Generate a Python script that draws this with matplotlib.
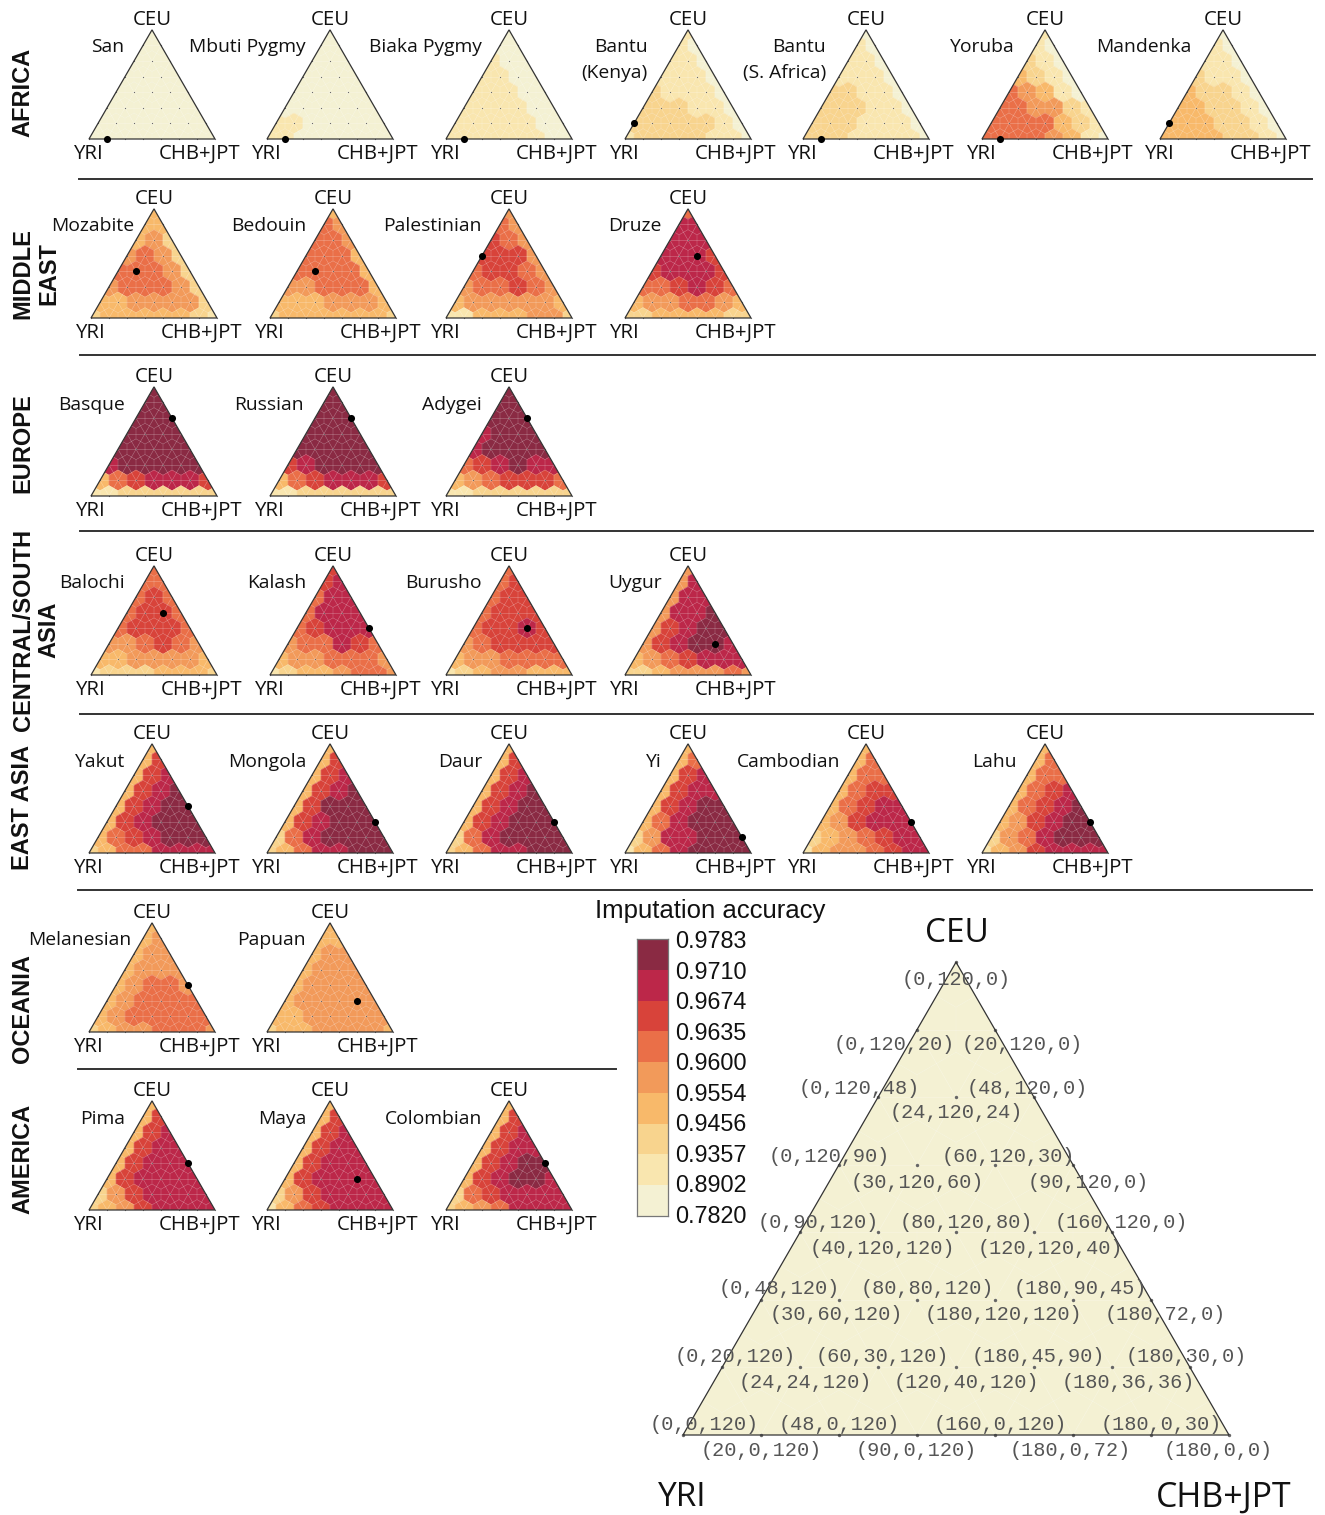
import numpy as np
import matplotlib
matplotlib.use('Agg')
import matplotlib.pyplot as plt
from matplotlib.colors import ListedColormap
from matplotlib.patches import Polygon, RegularPolygon

W, H = 1325, 1515

# levels per lattice row, top (row 7) to bottom (row 0), index into level_colors
san = "0 00 000 0000 00000 000000 0000000 00000000".split()
mbuti = "0 00 000 0000 00000 000000 1100000 11000000".split()
biaka = "0 00 100 1100 11100 111100 1111100 11111100".split()
bantu_kenya = "1 10 110 1110 21110 222110 2222210 12222110".split()
bantu_safrica = "0 10 110 1110 22110 222110 2221110 22211110".split()
yoruba = "1 10 210 3210 54310 554421 5555321 55554310".split()
mandenka = "0 10 110 2110 32210 332210 3332210 33332210".split()
mozabite = "3 33 342 4542 55542 455542 3344442 23333321".split()
bedouin = "3 54 554 5553 55553 445553 3334443 23333332".split()
palestinian = "4 54 654 6664 56654 455654 3444443 11333442".split()
druze = "5 77 777 7776 67776 556765 3445543 22333322".split()
basque = "8 88 888 8888 88888 788888 3567776 11222222".split()
russian = "8 88 888 8888 88888 678888 3567776 11222222".split()
adygei = "8 88 888 7888 78888 567877 3456665 11222222".split()
balochi = "5 55 565 5665 56665 445654 3344443 12223332".split()
kalash = "6 67 577 5777 56777 455765 3445554 12334554".split()
burusho = "5 56 566 5666 56676 456666 3445555 12344333".split()
uygur = "4 47 477 4778 46788 467887 3456777 22344454".split()
yakut = "3 36 367 3678 36788 367888 3567888 23557777".split()
mongola = "3 36 367 3678 36888 367888 2578888 23577888".split()
daur = "3 36 367 3678 36788 367888 2578888 23577888".split()
yi = "3 35 367 3677 36788 357888 2477888 13578888".split()
cambodian = "3 35 355 3566 35677 346777 2345677 13445677".split()
lahu = "3 35 355 3567 35678 346788 2457888 13467777".split()
melanesian = "3 34 344 3444 34554 345555 3455555 23445554".split()
papuan = "3 33 344 3444 34444 344444 3344444 23344443".split()
pima = "3 36 367 3677 36777 367777 2467777 23467777".split()
maya = "3 36 367 3677 36777 367777 2467777 13567777".split()
colombian = "3 36 367 3677 36788 367887 2567777 23457777".split()

names = ["San", "Mbuti Pygmy", "Biaka Pygmy", "Bantu\n(Kenya)", "Bantu\n(S. Africa)", "Yoruba", "Mandenka",
         "Mozabite", "Bedouin", "Palestinian", "Druze",
         "Basque", "Russian", "Adygei",
         "Balochi", "Kalash", "Burusho", "Uygur",
         "Yakut", "Mongola", "Daur", "Yi", "Cambodian", "Lahu",
         "Melanesian", "Papuan",
         "Pima", "Maya", "Colombian"]
levels = [san, mbuti, biaka, bantu_kenya, bantu_safrica, yoruba, mandenka,
          mozabite, bedouin, palestinian, druze,
          basque, russian, adygei,
          balochi, kalash, burusho, uygur,
          yakut, mongola, daur, yi, cambodian, lahu,
          melanesian, papuan,
          pima, maya, colombian]
# lattice position of the black dot
dot_rows = [0, 0, 0, 1, 0, 0, 1,
            3, 3, 4, 4,
            5, 5, 5,
            4, 3, 3, 2,
            3, 2, 2, 1, 2, 2,
            3, 2,
            3, 2, 3]
dot_cols = [1, 1, 1, 0, 1, 1, 0,
            1, 1, 0, 2,
            2, 2, 2,
            2, 4, 3, 4,
            4, 5, 5, 6, 5, 5,
            4, 4,
            4, 4, 4]

level_colors = ['#F4F1D3', '#F9E6AF', '#F8D48E', '#F8B96A', '#F29A5A',
                '#EA6F48', '#D8433A', '#BC2749', '#8A2A43']
bar_labels = ['0.7820', '0.8902', '0.9357', '0.9456', '0.9554',
              '0.9600', '0.9635', '0.9674', '0.9710', '0.9783']

big_labels = ["(0,120,0)", "(0,120,20)", "(20,120,0)", "(0,120,48)", "(48,120,0)", "(24,120,24)",
              "(0,120,90)", "(60,120,30)", "(30,120,60)", "(90,120,0)",
              "(0,90,120)", "(80,120,80)", "(160,120,0)", "(40,120,120)", "(120,120,40)",
              "(0,48,120)", "(80,80,120)", "(180,90,45)", "(30,60,120)", "(180,120,120)", "(180,72,0)",
              "(0,20,120)", "(60,30,120)", "(180,45,90)", "(180,30,0)", "(24,24,120)", "(120,40,120)", "(180,36,36)",
              "(0,0,120)", "(48,0,120)", "(160,0,120)", "(180,0,30)", "(20,0,120)", "(90,0,120)", "(180,0,72)", "(180,0,0)"]

# layout, in pixels of the reference
panel_rows = [0]*7 + [1]*4 + [2]*3 + [3]*4 + [4]*6 + [5]*2 + [6]*3
panel_lefts = [89, 267, 446, 625, 803, 982, 1160,
               91, 270, 446, 625,
               91, 270, 446,
               91, 270, 446, 625,
               89, 267, 446, 625, 803, 982,
               89, 267,
               89, 267, 446]
name_rights = [124, 306, 482, 648, 826, 1015, 1192,
               134, 306, 482, 662,
               125, 304, 482,
               125, 306, 482, 662,
               125, 306, 482, 662, 840, 1017,
               131, 306,
               125, 306, 482]
row_bases = [139, 318, 496, 675, 853, 1032, 1210]
row_name_y = [47, 226, 405, 583, 762, 940, 1119]
big_xy = [(956, 980), (894, 1045), (1022, 1045), (859, 1088), (1027, 1088), (956, 1113),
          (829, 1157), (1008, 1157), (917, 1182), (1088, 1182),
          (818, 1222), (966, 1222), (1121, 1222), (882, 1248), (1050, 1248),
          (779, 1288), (927, 1288), (1080, 1288), (836, 1314), (1003, 1314), (1165, 1314),
          (735, 1356), (882, 1356), (1038, 1356), (1186, 1356), (805, 1382), (966, 1382), (1128, 1382),
          (704, 1424), (839, 1424), (1000, 1424), (1161, 1424), (761, 1450), (916, 1450), (1070, 1450), (1218, 1450)]

SANS = 'Open Sans'
ARIAL = 'Liberation Sans'
HH = np.sqrt(3) / 2
fig = plt.figure(figsize=(W / 100, H / 100), dpi=100)


def txt(x, y, s, **kw):
    kw.setdefault('ha', 'center')
    kw.setdefault('va', 'center')
    fig.text(x / W, 1 - y / H, s, **kw)


def triangle(left, base, width, rows, dot=None, dot_size=26, mark_size=0.8):
    height = width * HH
    ax = fig.add_axes([left / W, 1 - base / H, width / W, height / H])
    ax.set_xlim(0, 7)
    ax.set_ylim(0, 7 * HH)
    ax.axis('off')
    outline = Polygon([(0, 0), (7, 0), (3.5, 7 * HH)], closed=True, fc='none',
                      ec='#333333', lw=0.9, zorder=5, clip_on=False)
    ax.add_patch(outline)
    xs, ys = [], []
    for i, row in enumerate(rows):
        r = 7 - i
        for c, lev in enumerate(row):
            x, y = c + r / 2, r * HH
            xs.append(x)
            ys.append(y)
            col = level_colors[int(lev)]
            hexagon = RegularPolygon((x, y), 6, radius=1 / np.sqrt(3), orientation=0,
                                     fc=col, ec=col, lw=0.4, zorder=1)
            ax.add_patch(hexagon)
            hexagon.set_clip_path(outline)
            edge = RegularPolygon((x, y), 6, radius=1 / np.sqrt(3), orientation=0,
                                  fc='none', ec='white', lw=0.3, alpha=0.2, zorder=2)
            ax.add_patch(edge)
            edge.set_clip_path(outline)
    # faint mesh through the lattice points
    for r in range(8):
        for a, b in [((r / 2, r * HH), (7 - r / 2, r * HH)),
                     ((r, 0), (3.5 + r / 2, (7 - r) * HH)),
                     ((7 - r, 0), (3.5 - r / 2, (7 - r) * HH))]:
            line, = ax.plot([a[0], b[0]], [a[1], b[1]], color='white', lw=0.4, alpha=0.35, zorder=2)
            line.set_clip_path(outline)
    ax.scatter(xs, ys, s=mark_size, color='#666666', lw=0, zorder=3, clip_on=False)
    if dot is not None:
        ax.scatter([dot[1] + dot[0] / 2], [dot[0] * HH], s=dot_size, color='black', lw=0, zorder=6, clip_on=False)


for name, rows, dr, dc, pr, left, right in zip(names, levels, dot_rows, dot_cols, panel_rows, panel_lefts, name_rights):
    base = row_bases[pr]
    triangle(left, base, 126, rows, dot=(dr, dc))
    txt(left + 63, base - 119, 'CEU', family=SANS, fontsize=14.7, color='#111111')
    txt(left, base + 15, 'YRI', family=SANS, fontsize=14.7, color='#111111')
    txt(left + 111, base + 15, 'CHB+JPT', family=SANS, fontsize=14.7, color='#111111')
    y = row_name_y[pr]
    if '\n' in name:
        y += 13
    txt(right, y, name, family=SANS, fontsize=13.9, color='#111111', ha='right', linespacing=1.55)

# dividers
for y, x0, x1 in [(179, 79, 1312), (355, 80, 1315), (531, 80, 1313), (714, 80, 1313), (890, 78, 1312), (1069, 78, 616)]:
    fig.add_artist(plt.Line2D([x0 / W, x1 / W], [1 - y / H] * 2, color='#333333', lw=1.4))

# group headers
for x, y, s in [(23, 92, 'AFRICA'), (36, 274, 'MIDDLE\nEAST'), (23, 443, 'EUROPE'),
                (36, 630, 'CENTRAL/SOUTH\nASIA'), (23, 807, 'EAST ASIA'),
                (23, 1009, 'OCEANIA'), (23, 1159, 'AMERICA')]:
    txt(x, y, s, family=ARIAL, fontsize=17, fontweight='bold', rotation=90, color='#111111',
        linespacing=1.15, multialignment='center')

# colour bar
cax = fig.add_axes([637 / W, 1 - 1216 / H, 31 / W, 277 / H])
cax.pcolormesh([0, 1], np.arange(10), np.arange(9).reshape(-1, 1), cmap=ListedColormap(level_colors), vmin=0, vmax=8)
cax.set_xticks([])
cax.yaxis.tick_right()
cax.set_yticks(np.linspace(0.07, 9.0, 10))
cax.set_yticklabels(bar_labels, family=ARIAL, fontsize=16.8, color='#111111')
cax.tick_params(axis='y', length=0, pad=5)
for sp in cax.spines.values():
    sp.set_color('#777777')
    sp.set_linewidth(0.9)
txt(710, 911, 'Imputation accuracy', family=ARIAL, fontsize=18.5, color='#111111')

# key triangle
triangle(683, 1435, 546, san, mark_size=6)
for s, (x, y) in zip(big_labels, big_xy):
    txt(x, y, s, family='Liberation Mono', fontsize=14.6, color='#555555', zorder=10)
txt(957, 934, 'CEU', family=SANS, fontsize=24, color='#111111')
txt(682, 1498, 'YRI', family=SANS, fontsize=24, color='#111111')
txt(1224, 1498, 'CHB+JPT', family=SANS, fontsize=24.4, color='#111111')

fig.savefig('out.png', dpi=100)
